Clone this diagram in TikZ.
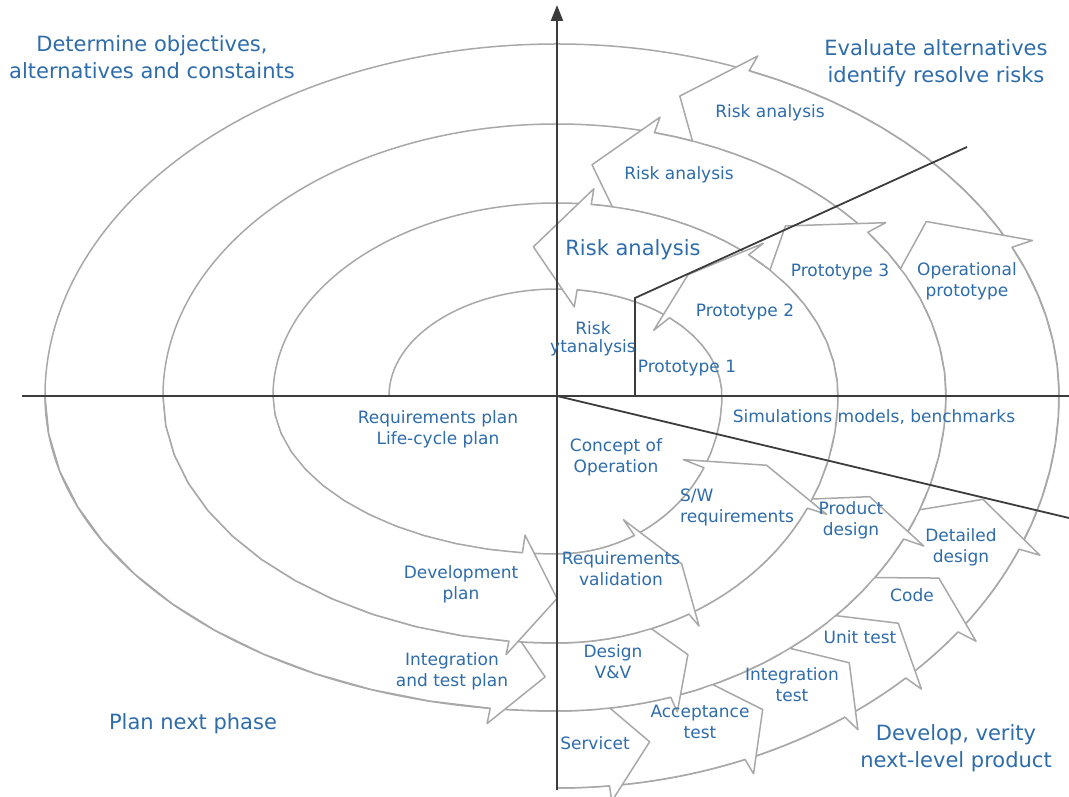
\documentclass[tikz,border=0pt]{standalone}
\usepackage{fontspec}
\setmainfont{DejaVu Sans}
\usetikzlibrary{arrows.meta}

\definecolor{spiralgray}{RGB}{168,168,168}
\definecolor{axisgray}{RGB}{60,60,60}
\definecolor{labelblue}{RGB}{46,108,170}

% semi-axes of the spiral turns 1..4, per quadrant
\def\ringR{{165,281,389,502}}
\def\ringL{{168,284,394,512}}
\def\ringLB{{284,394,512,630}}
\def\ringT{{107,193,272,352}}
\def\ringB{{158,247,315,392}}

% \spt{name}{angle}{level}: point on the spiral band at a given angle and level
\newcommand\spt[3]{%
  \pgfmathsetmacro\spT{mod(#2+720,360)}%
  \pgfmathtruncatemacro\spQ{floor(\spT/90)}%
  \pgfmathtruncatemacro\spI{min(max(floor(#3),1),3)}%
  \pgfmathsetmacro\spF{#3-\spI}%
  \ifcase\spQ
    \let\spArrA\ringR \let\spArrB\ringT
  \or \let\spArrA\ringL \let\spArrB\ringT
  \or \let\spArrA\ringLB \let\spArrB\ringB
  \else \let\spArrA\ringR \let\spArrB\ringB
  \fi
  \pgfmathsetmacro\spA{\spArrA[\spI-1]+\spF*(\spArrA[\spI]-\spArrA[\spI-1])}%
  \pgfmathsetmacro\spB{\spArrB[\spI-1]+\spF*(\spArrB[\spI]-\spArrB[\spI-1])}%
  \coordinate (#1) at ({\spA*cos(\spT)},{\spB*sin(\spT)});%
}

% \blockarrow{name}{tail angle}{head angle}{head length}{inner level}{outer level}{barb}
\newcommand\blockarrow[7]{%
  \foreach \k in {0,...,12}{%
    \pgfmathsetmacro\spTk{#2+(#3-#2)*\k/12}%
    \spt{#1-i\k}{\spTk}{#5}%
    \spt{#1-o\k}{\spTk}{#6}%
  }%
  \pgfmathsetmacro\spLo{#5-#7}%
  \pgfmathsetmacro\spHi{#6+#7}%
  \pgfmathsetmacro\spMid{(#5+#6)/2}%
  \pgfmathsetmacro\spTip{#3+#4}%
  \spt{#1-bi}{#3}{\spLo}%
  \spt{#1-bo}{#3}{\spHi}%
  \spt{#1-tip}{\spTip}{\spMid}%
  \filldraw[bandarrow] (#1-i0) \foreach \k in {1,...,12}{ -- (#1-i\k)}
    -- (#1-bi) -- (#1-tip) -- (#1-bo)
    \foreach \k in {12,11,...,0}{ -- (#1-o\k)};
}

\tikzset{
  spiral/.style={draw=spiralgray, line width=1.5pt},
  bandarrow/.style={draw=spiralgray, fill=white, line width=1.5pt, line join=round},
  axisline/.style={draw=axisgray, line width=2.2pt},
  lbl/.style={text=labelblue, font=\fontsize{17}{21}\selectfont, align=center, inner sep=0pt},
  biglbl/.style={text=labelblue, font=\fontsize{21}{27}\selectfont, align=center, inner sep=0pt},
}

\begin{document}
\begin{tikzpicture}[x=1pt,y=1pt]
\useasboundingbox[fill=white] (-557,-401) rectangle (512,396);

% the spiral, from the centre outwards
\draw[spiral] (-168,0)
  arc[start angle=180,end angle=90,x radius=168,y radius=107]
  arc[start angle=90,end angle=0,x radius=165,y radius=107]
  arc[start angle=360,end angle=270,x radius=165,y radius=158]
  arc[start angle=270,end angle=180,x radius=284,y radius=158]
  arc[start angle=180,end angle=90,x radius=284,y radius=193]
  arc[start angle=90,end angle=0,x radius=281,y radius=193]
  arc[start angle=360,end angle=270,x radius=281,y radius=247]
  arc[start angle=270,end angle=180,x radius=394,y radius=247]
  arc[start angle=180,end angle=90,x radius=394,y radius=272]
  arc[start angle=90,end angle=0,x radius=389,y radius=272]
  arc[start angle=360,end angle=270,x radius=389,y radius=315]
  arc[start angle=270,end angle=180,x radius=512,y radius=315]
  arc[start angle=180,end angle=90,x radius=512,y radius=352]
  arc[start angle=90,end angle=0,x radius=502,y radius=352]
  arc[start angle=360,end angle=270,x radius=502,y radius=392];

% outer band
\blockarrow{rt}{385}{427.5}{6.5}{3}{4}{0.2}
\blockarrow{op}{337}{385}{9}{3}{4}{0.2}
\blockarrow{dd}{323}{337}{6}{3}{4}{0.2}
\blockarrow{co}{314}{323}{6}{3}{4}{0.2}
\blockarrow{ut}{305}{314}{6}{3}{4}{0.2}
\blockarrow{itt}{292}{305}{6}{3}{4}{0.2}
\blockarrow{ac}{276}{292}{5.5}{3}{4}{0.2}
\blockarrow{sv}{270}{276}{6}{3}{4}{0.2}
% middle band
\blockarrow{rm}{397}{435.5}{8.5}{2}{3}{0.2}
\blockarrow{pt}{333}{397}{10}{2}{3}{0.2}
\blockarrow{pd}{287}{333}{6}{2}{3}{0.2}
\blockarrow{dv}{262.5}{287}{6}{2}{3}{0.2}
\blockarrow{ip}{180}{262.5}{6}{2}{3}{0.2}
% inner band
\blockarrow{rb}{407}{443}{13}{1}{2}{0.2}
\blockarrow{pp}{333}{407}{7}{1}{2}{0.2}
\blockarrow{sw}{298}{333}{7}{1}{2}{0.2}
\blockarrow{rv}{263}{298}{6}{1}{2}{0.2}
\blockarrow{dp}{180}{263}{7}{1}{2}{0.2}

% axes and phase boundaries
\coordinate (hl) at (-535,0);
\coordinate (hr) at (512,0);
\coordinate (vb) at (0,-394);
\coordinate (vt) at (0,391);
\coordinate (o) at (0,0);
\coordinate (k0) at (78,0);
\coordinate (k1) at (78,98);
\coordinate (k2) at (410,249);
\coordinate (d1) at (512,-122);
\draw[axisline] (hl) -- (hr);
\draw[axisline,-{Triangle[length=16pt,width=12pt]}] (vb) -- (vt);
\draw[axisline,line width=1.8pt] (k0) -- (k1) -- (k2);
\draw[axisline,line width=1.8pt] (o) -- (d1);

% quadrant headings
\node[biglbl] (det) at (-405,339) {Determine objectives,\\alternatives and constaints};
\node[biglbl] (eval) at (379,333) {Evaluate alternatives\\identify resolve risks};
\node[biglbl] (plan) at (-364,-328) {Plan next phase};
\node[biglbl] (dev) at (399,-352) {Develop, verity\\next-level product};

% activity labels
\node[lbl] (ra3) at (213,283) {Risk analysis};
\node[lbl] (ra2) at (122,221) {Risk analysis};
\node[biglbl] (ra1) at (76,146) {Risk analysis};
\node[lbl,font=\fontsize{17}{18}\selectfont] (ra0) at (36,57) {Risk\\ytanalysis};
\node[lbl] (p1) at (130,28) {Prototype 1};
\node[lbl] (p2) at (188,84) {Prototype 2};
\node[lbl] (p3) at (283,124) {Prototype 3};
\node[lbl] (pop) at (410,115) {Operational\\prototype};
\node[lbl] (sim) at (317,-21) {Simulations models, benchmarks};
\node[lbl] (rp) at (-119,-33) {Requirements plan\\Life-cycle plan};
\node[lbl] (cop) at (59,-61) {Concept of\\Operation};
\node[lbl,align=left,anchor=west] (swr) at (123,-111) {S/W\\requirements};
\node[lbl] (prd) at (294,-124) {Product\\design};
\node[lbl] (dtd) at (404,-151) {Detailed\\design};
\node[lbl] (rqv) at (64,-173) {Requirements\\validation};
\node[lbl] (dvp) at (-96,-188) {Development\\plan};
\node[lbl] (itp) at (-105,-275) {Integration\\and test plan};
\node[lbl] (cde) at (355,-199) {Code};
\node[lbl] (unt) at (303,-241) {Unit test};
\node[lbl] (dvv) at (56,-266) {Design\\V\&V};
\node[lbl] (itt) at (235,-289) {Integration\\test};
\node[lbl] (act) at (143,-326) {Acceptance\\test};
\node[lbl] (svc) at (38,-347) {Servicet};
\end{tikzpicture}
\end{document}
